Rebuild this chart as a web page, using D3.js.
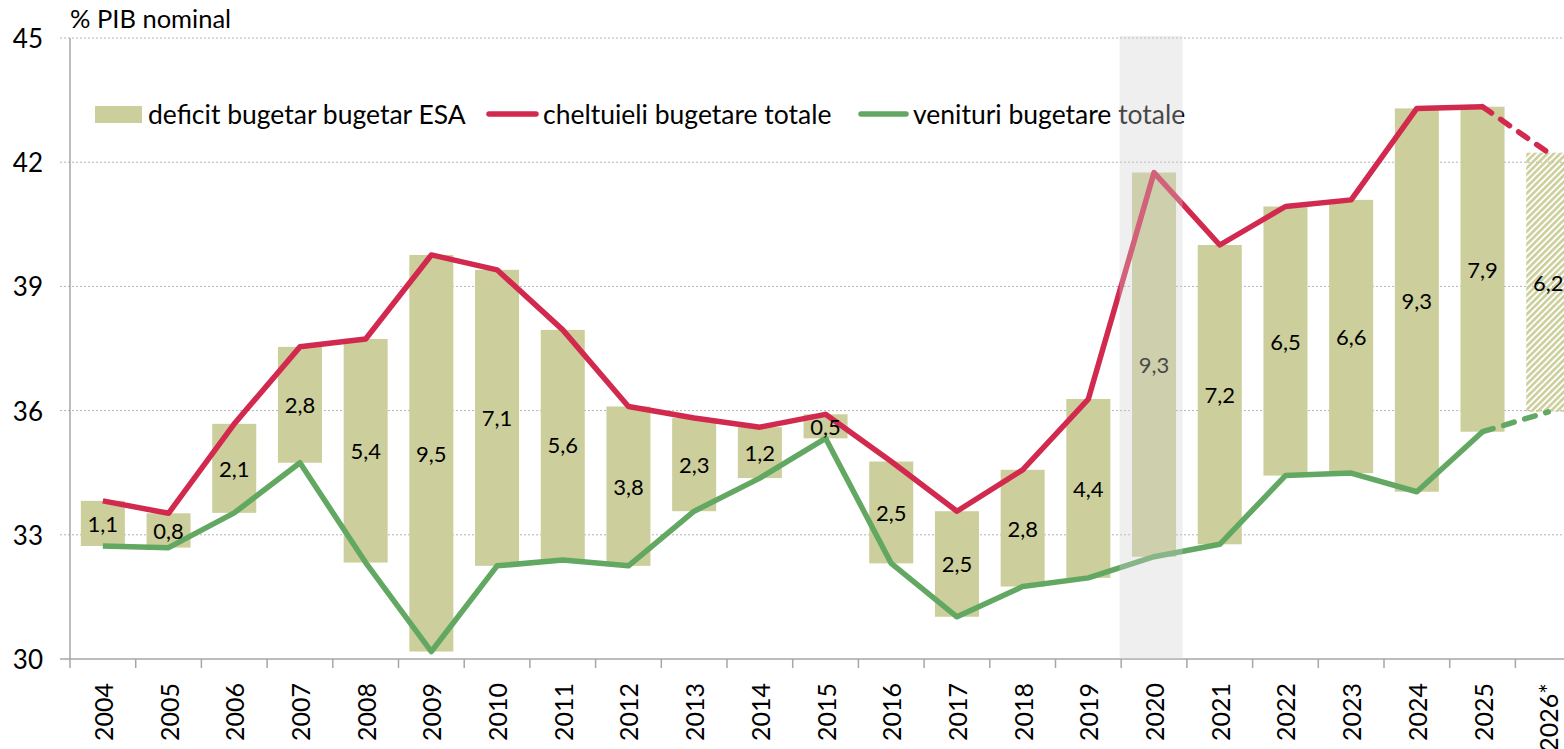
<!DOCTYPE html>
<html>
<head>
<meta charset="utf-8">
<script src="https://cdn.jsdelivr.net/npm/d3@7"></script>
<style>
  html, body { margin: 0; padding: 0; background: #fff; }
  svg { display: block; }
  text { font-family: Lato, "Noto Sans", sans-serif; fill: #000; }
</style>
</head>
<body>
<svg id="chart" width="1564" height="749"></svg>
<script>
const years = ["2004","2005","2006","2007","2008","2009","2010","2011","2012","2013","2014","2015","2016","2017","2018","2019","2020","2021","2022","2023","2024","2025","2026*"];
const expenditure = [33.82,33.52,35.68,37.54,37.73,39.76,39.40,37.95,36.10,35.82,35.60,35.91,34.77,33.57,34.57,36.28,41.75,40.00,40.93,41.09,43.30,43.34,42.23];
const revenue = [32.73,32.69,33.53,34.74,32.33,30.18,32.25,32.39,32.25,33.57,34.37,35.33,32.31,31.02,31.75,31.96,32.47,32.77,34.43,34.49,34.04,35.49,35.97];
const deficitLabels = ["1,1","0,8","2,1","2,8","5,4","9,5","7,1","5,6","3,8","2,3","1,2","0,5","2,5","2,5","2,8","4,4","9,3","7,2","6,5","6,6","9,3","7,9","6,2"];
const yTicks = [30,33,36,39,42,45];
const legendLabels = ["deficit bugetar bugetar ESA","cheltuieli bugetare totale","venituri bugetare totale"];
const unitLabel = "% PIB nominal";
const highlightYear = "2020";
const forecastYear = "2026*";

(function () {
const W = 1564;
const plotLeft = 70, plotTop = 38, plotBottom = 659, step = 65.7;
const C = { bar: "#cccf9b", red: "#d22a4e", green: "#62a862", axis: "#a6a6a6", grid: "#b3b3b3" };

const svg = d3.select("#chart");
const x = d3.scaleBand().domain(years).range([plotLeft, plotLeft + step * years.length]).paddingInner(0.33).paddingOuter(0.165);
const y = d3.scaleLinear().domain([30, 45]).range([plotBottom, plotTop]);
const cx = d => x(d) + x.bandwidth() / 2;

const defs = svg.append("defs");
const pat = defs.append("pattern").attr("id", "hatch").attr("patternUnits", "userSpaceOnUse")
  .attr("width", 4.5).attr("height", 4.5).attr("patternTransform", "rotate(45)");
pat.append("rect").attr("width", 2.6).attr("height", 4.5).attr("fill", C.bar);

// grid
svg.append("g").selectAll("line").data(yTicks.filter(t => t > 30)).join("line")
  .attr("x1", plotLeft - 10).attr("x2", W).attr("y1", d => y(d)).attr("y2", d => y(d))
  .attr("stroke", C.grid).attr("stroke-width", 1).attr("stroke-dasharray", "2,2");

// axes
svg.append("line").attr("x1", plotLeft).attr("x2", plotLeft).attr("y1", y(45)).attr("y2", plotBottom)
  .attr("stroke", C.axis).attr("stroke-width", 1.5);
svg.append("line").attr("x1", plotLeft - 10).attr("x2", W).attr("y1", plotBottom).attr("y2", plotBottom)
  .attr("stroke", C.axis).attr("stroke-width", 1.5);
svg.append("g").selectAll("line").data(years).join("line")
  .attr("x1", d => x(d) - x.step() * 0.165).attr("x2", d => x(d) - x.step() * 0.165)
  .attr("y1", plotBottom).attr("y2", plotBottom + 9).attr("stroke", C.axis).attr("stroke-width", 1.5);

// y tick labels
svg.append("g").selectAll("text").data(yTicks).join("text")
  .attr("x", 43).attr("y", d => y(d)).attr("text-anchor", "end").attr("dominant-baseline", "central")
  .attr("font-size", 26).text(d => d);

svg.append("text").attr("x", plotLeft).attr("y", 28).attr("font-size", 25.5).text(unitLabel);

// x labels
svg.append("g").selectAll("text").data(years).join("text")
  .attr("transform", d => `translate(${cx(d)},${plotBottom + 24}) rotate(-90)`)
  .attr("text-anchor", "end").attr("dominant-baseline", "central")
  .attr("font-size", 25).text(d => d);

// bars
const idx = d3.range(years.length);
svg.append("g").selectAll("rect").data(idx).join("rect")
  .attr("x", i => x(years[i])).attr("width", x.bandwidth())
  .attr("y", i => y(expenditure[i])).attr("height", i => y(revenue[i]) - y(expenditure[i]))
  .attr("fill", i => years[i] === forecastYear ? "url(#hatch)" : C.bar);

// lines
const solidIdx = idx.filter(i => years[i] !== forecastYear);
const dashIdx = idx.slice(-2);
const line = arr => d3.line().x(i => cx(years[i])).y(i => y(arr[i]));
[[expenditure, C.red], [revenue, C.green]].forEach(([arr, col]) => {
  svg.append("path").datum(solidIdx).attr("d", line(arr)).attr("fill", "none")
    .attr("stroke", col).attr("stroke-width", 5.5).attr("stroke-linejoin", "round");
  svg.append("path").datum(dashIdx).attr("d", line(arr)).attr("fill", "none")
    .attr("stroke", col).attr("stroke-width", 5.5).attr("stroke-dasharray", "11,11").attr("stroke-linecap", "round");
});

// data labels
svg.append("g").selectAll("text").data(idx).join("text")
  .attr("x", i => cx(years[i])).attr("y", i => y((expenditure[i] + revenue[i]) / 2))
  .attr("text-anchor", "middle").attr("dominant-baseline", "central")
  .attr("font-size", 22).text(i => deficitLabels[i]);

// legend
const lg = svg.append("g");
const fsL = 26.5;
lg.append("rect").attr("x", 95).attr("y", 106).attr("width", 47).attr("height", 17).attr("fill", C.bar);
lg.append("text").attr("x", 148).attr("y", 114).attr("dominant-baseline", "central").attr("font-size", fsL).text(legendLabels[0]);
lg.append("line").attr("x1", 489).attr("x2", 536).attr("y1", 114).attr("y2", 114).attr("stroke", C.red).attr("stroke-width", 5.5).attr("stroke-linecap", "round");
lg.append("text").attr("x", 543).attr("y", 114).attr("dominant-baseline", "central").attr("font-size", fsL).text(legendLabels[1]);
lg.append("line").attr("x1", 861).attr("x2", 906).attr("y1", 114).attr("y2", 114).attr("stroke", C.green).attr("stroke-width", 5.5).attr("stroke-linecap", "round");
lg.append("text").attr("x", 913).attr("y", 114).attr("dominant-baseline", "central").attr("font-size", fsL).text(legendLabels[2]);

// highlight overlay
svg.append("rect").attr("x", x(highlightYear) - 12.5).attr("width", 63)
  .attr("y", y(45) - 2).attr("height", plotBottom - y(45) + 2)
  .attr("fill", "rgb(207,207,207)").attr("fill-opacity", 0.34);
})();
</script>
</body>
</html>
